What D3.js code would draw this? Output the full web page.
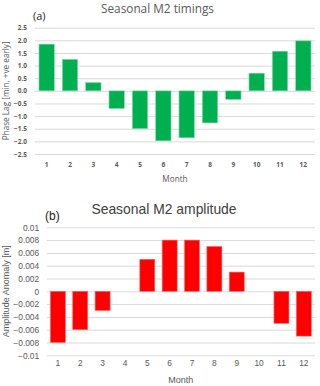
<!DOCTYPE html>
<html>
<head>
<meta charset="utf-8">
<script src="https://cdn.jsdelivr.net/npm/d3@7"></script>
<style>
  body { margin: 0; background: #fff; }
  svg { display: block; }
</style>
</head>
<body>
<div id="chart"></div>
<script>
// dados
const months = ["1","2","3","4","5","6","7","8","9","10","11","12"];
const phaseLag = [1.85, 1.25, 0.33, -0.7, -1.5, -1.98, -1.86, -1.27, -0.34, 0.7, 1.57, 1.98];
const ampAnomaly = [-0.008, -0.006, -0.003, 0, 0.005, 0.008, 0.008, 0.007, 0.003, 0, -0.005, -0.007];
const ticksA = [2.5, 2.0, 1.5, 1.0, 0.5, 0.0, -0.5, -1.0, -1.5, -2.0, -2.5];
const ticksB = [0.01, 0.008, 0.006, 0.004, 0.002, 0, -0.002, -0.004, -0.006, -0.008, -0.01];

const svg = d3.select("#chart").append("svg")
    .attr("width", 320)
    .attr("height", 386);

function painel(cfg) {
    const g = svg.append("g");

    const x = d3.scaleBand()
        .domain(months)
        .range([cfg.left, cfg.right])
        .paddingInner(cfg.pad)
        .paddingOuter(cfg.pad / 2);

    const y = d3.scaleLinear()
        .domain([cfg.min, cfg.max])
        .range([cfg.bottom, cfg.top]);

    // grelha
    g.append("g")
        .attr("transform", `translate(${cfg.left},0)`)
        .call(d3.axisLeft(y).tickValues(cfg.ticks).tickSize(-(cfg.right - cfg.left)).tickFormat(cfg.fmt))
        .call(a => a.select(".domain").remove())
        .call(a => a.selectAll("line").attr("stroke", "#d9d9d9").attr("stroke-width", 1))
        .call(a => a.selectAll("text")
            .attr("x", -cfg.tickGap)
            .attr("fill", "#595959")
            .style("font-family", cfg.font)
            .style("font-size", cfg.tickSize + "px")
            .style("font-weight", cfg.tickWeight));

    // barras
    g.selectAll(".bar")
        .data(cfg.values)
        .enter()
        .append("rect")
        .attr("x", (d, i) => x(months[i]))
        .attr("y", d => y(Math.max(0, d)))
        .attr("width", x.bandwidth())
        .attr("height", d => Math.abs(y(d) - y(0)))
        .attr("fill", cfg.color)
        .attr("stroke", cfg.edge)
        .attr("stroke-width", 0.6);

    // eixo x (só texto)
    g.append("g")
        .attr("transform", `translate(0,${cfg.bottom})`)
        .call(d3.axisBottom(x).tickSize(0).tickPadding(cfg.xPad))
        .call(a => a.select(".domain").remove())
        .call(a => a.selectAll("text")
            .attr("fill", "#595959")
            .style("font-family", cfg.font)
            .style("font-size", cfg.tickSize + "px")
            .style("font-weight", cfg.tickWeight));

    g.append("text")
        .attr("x", (cfg.left + cfg.right) / 2)
        .attr("y", cfg.monthY)
        .attr("text-anchor", "middle")
        .attr("fill", "#595959")
        .style("font-family", cfg.font)
        .style("font-size", cfg.labelSize + "px")
        .text("Month");

    g.append("text")
        .attr("transform", `translate(${cfg.yLabelX},${(cfg.top + cfg.bottom) / 2}) rotate(-90)`)
        .attr("text-anchor", "middle")
        .attr("fill", "#595959")
        .style("font-family", cfg.font)
        .style("font-size", cfg.labelSize + "px")
        .text(cfg.yLabel);

    g.append("text")
        .attr("x", cfg.titleX)
        .attr("y", cfg.titleY)
        .attr("text-anchor", "middle")
        .attr("fill", cfg.titleColor)
        .style("font-family", cfg.font)
        .style("font-size", cfg.titleSize + "px")
        .text(cfg.title);

    g.append("text")
        .attr("x", cfg.tagX)
        .attr("y", cfg.tagY)
        .attr("fill", "#222")
        .style("font-family", cfg.font)
        .style("font-size", cfg.tagSize + "px")
        .text(cfg.tag);
}

painel({
    values: phaseLag, ticks: ticksA, min: -2.5, max: 2.5,
    fmt: d3.format(".1f"),
    left: 35, right: 315, top: 27.7, bottom: 154,
    pad: 0.34, color: "#00b050", edge: "#8fdcae",
    font: "'Open Sans', sans-serif", tickSize: 6.5, tickWeight: "bold", tickGap: 8,
    xPad: 8, monthY: 182, labelSize: 8.2,
    yLabel: "Phase Lag [min, +ve early]", yLabelX: 9,
    title: "Seasonal M2 timings", titleX: 157.5, titleY: 13, titleSize: 11.8, titleColor: "#595959",
    tag: "(a)", tagX: 33, tagY: 19.5, tagSize: 11
});

painel({
    values: ampAnomaly, ticks: ticksB, min: -0.01, max: 0.01,
    fmt: d => d === 0 ? "0" : d3.format("")(+d.toFixed(3)),
    left: 46.7, right: 315, top: 227.3, bottom: 355.3,
    pad: 0.33, color: "#ff0000", edge: "#ff6666",
    font: "'Liberation Sans', Arial, sans-serif", tickSize: 8.4, tickWeight: "normal", tickGap: 7.5,
    xPad: 5, monthY: 383, labelSize: 9,
    yLabel: "Amplitude Anomaly [m]", yLabelX: 9,
    title: "Seasonal M2 amplitude", titleX: 164, titleY: 214, titleSize: 13.9, titleColor: "#404040",
    tag: "(b)", tagX: 45, tagY: 220, tagSize: 12
});
</script>
</body>
</html>
